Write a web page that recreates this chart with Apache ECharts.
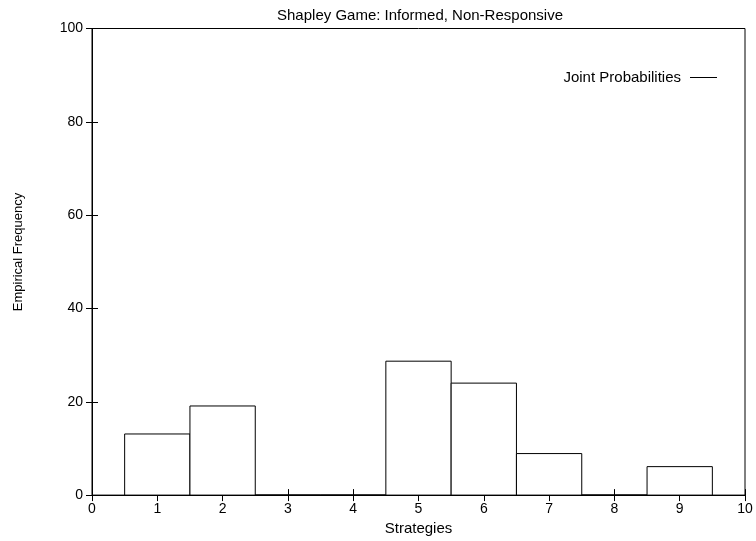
<!DOCTYPE html>
<html><head><meta charset="utf-8">
<script src="https://cdn.jsdelivr.net/npm/echarts@6/dist/echarts.min.js"></script>
<style>html,body{margin:0;padding:0;background:#fff}#c{width:756px;height:541px}</style>
</head><body><div id="c"></div>
<script>
const strategies = [1, 2, 3, 4, 5, 6, 7, 8, 9];
const frequencies = [13.1, 19.1, 0, 0, 28.7, 24.0, 8.9, 0, 6.1];
const xTicks = [0, 1, 2, 3, 4, 5, 6, 7, 8, 9, 10];
const yTicks = [0, 20, 40, 60, 80, 100];
const titleText = 'Shapley Game: Informed, Non-Responsive';
const seriesName = 'Joint Probabilities';
const xName = 'Strategies';
const yName = 'Empirical Frequency';

const FONT = 'Liberation Sans, Arial, sans-serif';
const chart = echarts.init(document.getElementById('c'), null, {renderer: 'canvas'});
const data = strategies.map((s, i) => [s, frequencies[i]]);
function axisCommon() {
  return {
    axisLine: {show: true, lineStyle: {color: '#000', width: 1}},
    axisTick: {show: true, inside: true, length: 6, lineStyle: {color: '#000', width: 1}},
    splitLine: {show: false}
  };
}
chart.setOption({
  animation: false,
  backgroundColor: '#fff',
  title: {text: titleText, left: 415, textAlign: 'center', top: 3,
    textStyle: {fontFamily: FONT, fontSize: 15, fontWeight: 'normal', color: '#000'}},
  legend: {
    data: [{name: seriesName, icon: 'rect', itemStyle: {color: '#000'}}],
    right: 34, top: 65, align: 'right', itemWidth: 27, itemHeight: 1, itemGap: 10,
    textStyle: {fontFamily: FONT, fontSize: 15, color: '#000', padding: [0, 4, 0, 0]}
  },
  graphic: [{
    type: 'text', x: 18, y: 252, rotation: Math.PI / 2,
    style: {text: yName, font: '13px ' + FONT, fill: '#000', align: 'center', verticalAlign: 'middle'}
  }],
  grid: {left: 92, top: 28.5, right: 11, bottom: 44, show: true, borderColor: '#000', borderWidth: 1, containLabel: false},
  xAxis: [
    Object.assign({type: 'value', min: 0, max: 10, interval: 1, position: 'bottom',
      name: xName, nameLocation: 'middle', nameGap: 22,
      nameTextStyle: {fontFamily: FONT, fontSize: 15, color: '#000'},
      axisLabel: {fontFamily: FONT, fontSize: 14, color: '#000', margin: 7,
        formatter: v => xTicks.includes(v) ? String(v) : ''}}, axisCommon()),
    Object.assign({type: 'value', min: 0, max: 10, interval: 1, position: 'top',
      axisLabel: {show: false}}, axisCommon())
  ],
  yAxis: [
    Object.assign({type: 'value', min: 0, max: 100, interval: 20, position: 'left',
      axisLabel: {fontFamily: FONT, fontSize: 14, color: '#000', margin: 9,
        formatter: v => yTicks.includes(v) ? String(v) : ''}}, axisCommon()),
    Object.assign({type: 'value', min: 0, max: 100, interval: 20, position: 'right',
      axisLabel: {show: false}}, axisCommon())
  ],
  series: [{
    name: seriesName,
    type: 'custom',
    xAxisIndex: 0, yAxisIndex: 0,
    itemStyle: {color: '#000'},
    data: data,
    renderItem: function (params, api) {
      const x = api.value(0), v = api.value(1);
      const p1 = api.coord([x - 0.5, v]);
      const p2 = api.coord([x + 0.5, 0]);
      return {
        type: 'rect',
        shape: {x: p1[0], y: p1[1], width: p2[0] - p1[0], height: p2[1] - p1[1]},
        style: {fill: '#fff', stroke: '#000', lineWidth: 1}
      };
    }
  }]
});
</script></body></html>
